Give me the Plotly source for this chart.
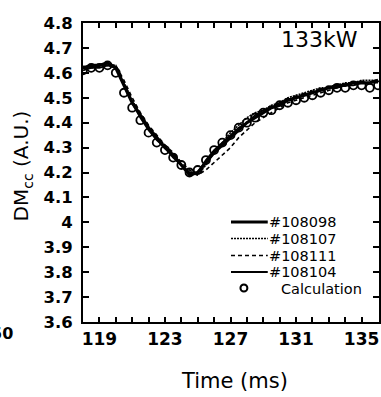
import plotly.graph_objects as go

# ---------------- data ----------------
t_exp = [118.0, 118.5, 119.0, 119.5, 120.0, 120.5, 121.0, 121.5, 122.0, 122.5,
         123.0, 123.5, 124.0, 124.5, 125.0, 125.5, 126.0, 126.5, 127.0, 127.5,
         128.0, 128.5, 129.0, 129.5, 130.0, 130.5, 131.0, 131.5, 132.0, 132.5,
         133.0, 133.5, 134.0, 134.5, 135.0, 135.5, 136.0]

dm_108098 = [4.62, 4.63, 4.63, 4.64, 4.62, 4.55, 4.48, 4.43, 4.38, 4.34,
             4.30, 4.27, 4.23, 4.19, 4.20, 4.24, 4.28, 4.31, 4.34, 4.37,
             4.40, 4.42, 4.44, 4.46, 4.47, 4.49, 4.50, 4.51, 4.52, 4.53,
             4.54, 4.55, 4.55, 4.56, 4.56, 4.56, 4.57]
dm_108107 = [4.62, 4.62, 4.63, 4.63, 4.63, 4.56, 4.49, 4.43, 4.38, 4.34,
             4.31, 4.27, 4.23, 4.20, 4.19, 4.23, 4.28, 4.32, 4.36, 4.39,
             4.42, 4.44, 4.45, 4.47, 4.48, 4.50, 4.51, 4.52, 4.53, 4.54,
             4.54, 4.55, 4.56, 4.56, 4.57, 4.57, 4.57]
dm_108111 = [4.62, 4.62, 4.63, 4.63, 4.63, 4.57, 4.50, 4.44, 4.39, 4.35,
             4.31, 4.28, 4.24, 4.21, 4.19, 4.21, 4.24, 4.27, 4.30, 4.34,
             4.37, 4.40, 4.42, 4.44, 4.46, 4.48, 4.49, 4.50, 4.51, 4.52,
             4.53, 4.54, 4.55, 4.55, 4.56, 4.56, 4.56]
dm_108104 = [4.61, 4.62, 4.62, 4.63, 4.62, 4.55, 4.48, 4.42, 4.37, 4.33,
             4.30, 4.26, 4.23, 4.20, 4.20, 4.25, 4.29, 4.32, 4.35, 4.38,
             4.40, 4.43, 4.45, 4.46, 4.48, 4.49, 4.50, 4.51, 4.52, 4.53,
             4.54, 4.54, 4.55, 4.55, 4.56, 4.56, 4.57]

t_calc = t_exp
dm_calc = [4.61, 4.62, 4.62, 4.63, 4.60, 4.52, 4.46, 4.41, 4.36, 4.32,
           4.29, 4.26, 4.23, 4.20, 4.21, 4.25, 4.29, 4.32, 4.35, 4.38,
           4.40, 4.42, 4.44, 4.45, 4.47, 4.48, 4.49, 4.50, 4.51, 4.52,
           4.53, 4.54, 4.54, 4.55, 4.55, 4.54, 4.55]

x_tick_vals = [119, 120, 121, 122, 123, 124, 125, 126, 127, 128, 129, 130,
               131, 132, 133, 134, 135, 136]
x_tick_text = ["119", " ", " ", " ", "123", " ", " ", " ", "127", " ", " ", " ",
               "131", " ", " ", " ", "135", " "]
y_tick_vals = [3.6, 3.7, 3.8, 3.9, 4.0, 4.1, 4.2, 4.3, 4.4, 4.5, 4.6, 4.7, 4.8]
y_tick_text = ["3.6", "3.7", "3.8", "3.9", "4", "4.1", "4.2", "4.3", "4.4",
               "4.5", "4.6", "4.7", "4.8"]

legend_names = ["#108098", "#108107", "#108111", "#108104"]
power_label = "133kW"

# ---------------- layout helpers ----------------
W, H = 381, 397
L, R, T, B = 83, 0, 23, 75
PW, PH = W - L - R, H - T - B
FONT = "DejaVu Sans"


def px(x):
    return (x - L) / PW


def py(y):
    return (H - B - y) / PH


def bfont(size):
    return dict(family=FONT, size=size, color="black", weight="bold")


def nfont(size):
    return dict(family=FONT, size=size, color="black")


styles = [dict(width=3.2, dash="solid"),
          dict(width=1.6, dash="2px,1px"),
          dict(width=1.6, dash="4px,3px"),
          dict(width=1.8, dash="solid")]

fig = go.Figure()
for name, vals, st in zip(legend_names, [dm_108098, dm_108107, dm_108111, dm_108104], styles):
    fig.add_trace(go.Scatter(x=t_exp, y=vals, mode="lines", name=name,
                             line=dict(color="black", **st), showlegend=False))
fig.add_trace(go.Scatter(x=t_calc, y=dm_calc, mode="markers", name="Calculation",
                         marker=dict(symbol="circle-open", size=8, color="black",
                                     line=dict(width=1.8, color="black")),
                         showlegend=False))

shapes = []
annotations = []

# manual legend
rows_y = [222, 238.5, 255.5, 272]
for name, st, ry in zip(legend_names, styles, rows_y):
    shapes.append(dict(type="line", xref="paper", yref="paper",
                       x0=px(232), x1=px(269), y0=py(ry), y1=py(ry),
                       line=dict(color="black", width=st["width"], dash=st["dash"])))
    annotations.append(dict(text=name, xref="paper", yref="paper", x=px(268), y=py(ry),
                            xanchor="left", yanchor="middle", showarrow=False,
                            font=nfont(14.5)))
shapes.append(dict(type="circle", xref="paper", yref="paper",
                   x0=px(241.5), x1=px(248.5), y0=py(291.5), y1=py(284.5),
                   line=dict(color="black", width=2)))
annotations.append(dict(text="Calculation", xref="paper", yref="paper", x=px(280), y=py(289),
                        xanchor="left", yanchor="middle", showarrow=False,
                        font=nfont(14.5)))

annotations.append(dict(text=power_label, xref="paper", yref="paper", x=px(321), y=py(40),
                        xanchor="center", yanchor="middle", showarrow=False,
                        font=nfont(22)))
annotations.append(dict(text="DM<sub>cc</sub> (A.U.)", xref="paper", yref="paper",
                        x=px(22), y=py(166), textangle=-90,
                        xanchor="center", yanchor="middle", showarrow=False,
                        font=nfont(20)))
annotations.append(dict(text="Time (ms)", xref="paper", yref="paper",
                        x=px(236), y=py(381), xanchor="center", yanchor="middle",
                        showarrow=False, font=nfont(21)))
annotations.append(dict(text="50", xref="paper", yref="paper",
                        x=px(15), y=py(333), xanchor="right", yanchor="middle",
                        showarrow=False, font=bfont(16)))

fig.update_layout(
    width=W, height=H,
    margin=dict(l=L, r=R, t=T, b=B, pad=0),
    paper_bgcolor="white", plot_bgcolor="white",
    showlegend=False,
    shapes=shapes, annotations=annotations,
    font=dict(family=FONT, color="black"),
)
fig.update_xaxes(range=[118, 118 + PW / 16.5], tickmode="array", tickvals=x_tick_vals,
                 ticktext=x_tick_text, ticks="inside", ticklen=5, tickwidth=1.8,
                 tickcolor="black", showline=True, linewidth=2, linecolor="black",
                 mirror="ticks", showgrid=False, zeroline=False, tickangle=0,
                 tickfont=bfont(17),
                 ticklabelstandoff=1)
fig.update_yaxes(range=[3.6, 4.8], tickmode="array", tickvals=y_tick_vals,
                 ticktext=y_tick_text, ticks="inside", ticklen=6, tickwidth=1.8,
                 tickcolor="black", showline=True, linewidth=2, linecolor="black",
                 mirror="ticks", showgrid=False, zeroline=False,
                 tickfont=bfont(16.5),
                 ticklabelstandoff=5)

fig.write_html("out.html", config={"displayModeBar": False},
               post_script="document.body.style.margin='0';document.body.style.padding='0';")
